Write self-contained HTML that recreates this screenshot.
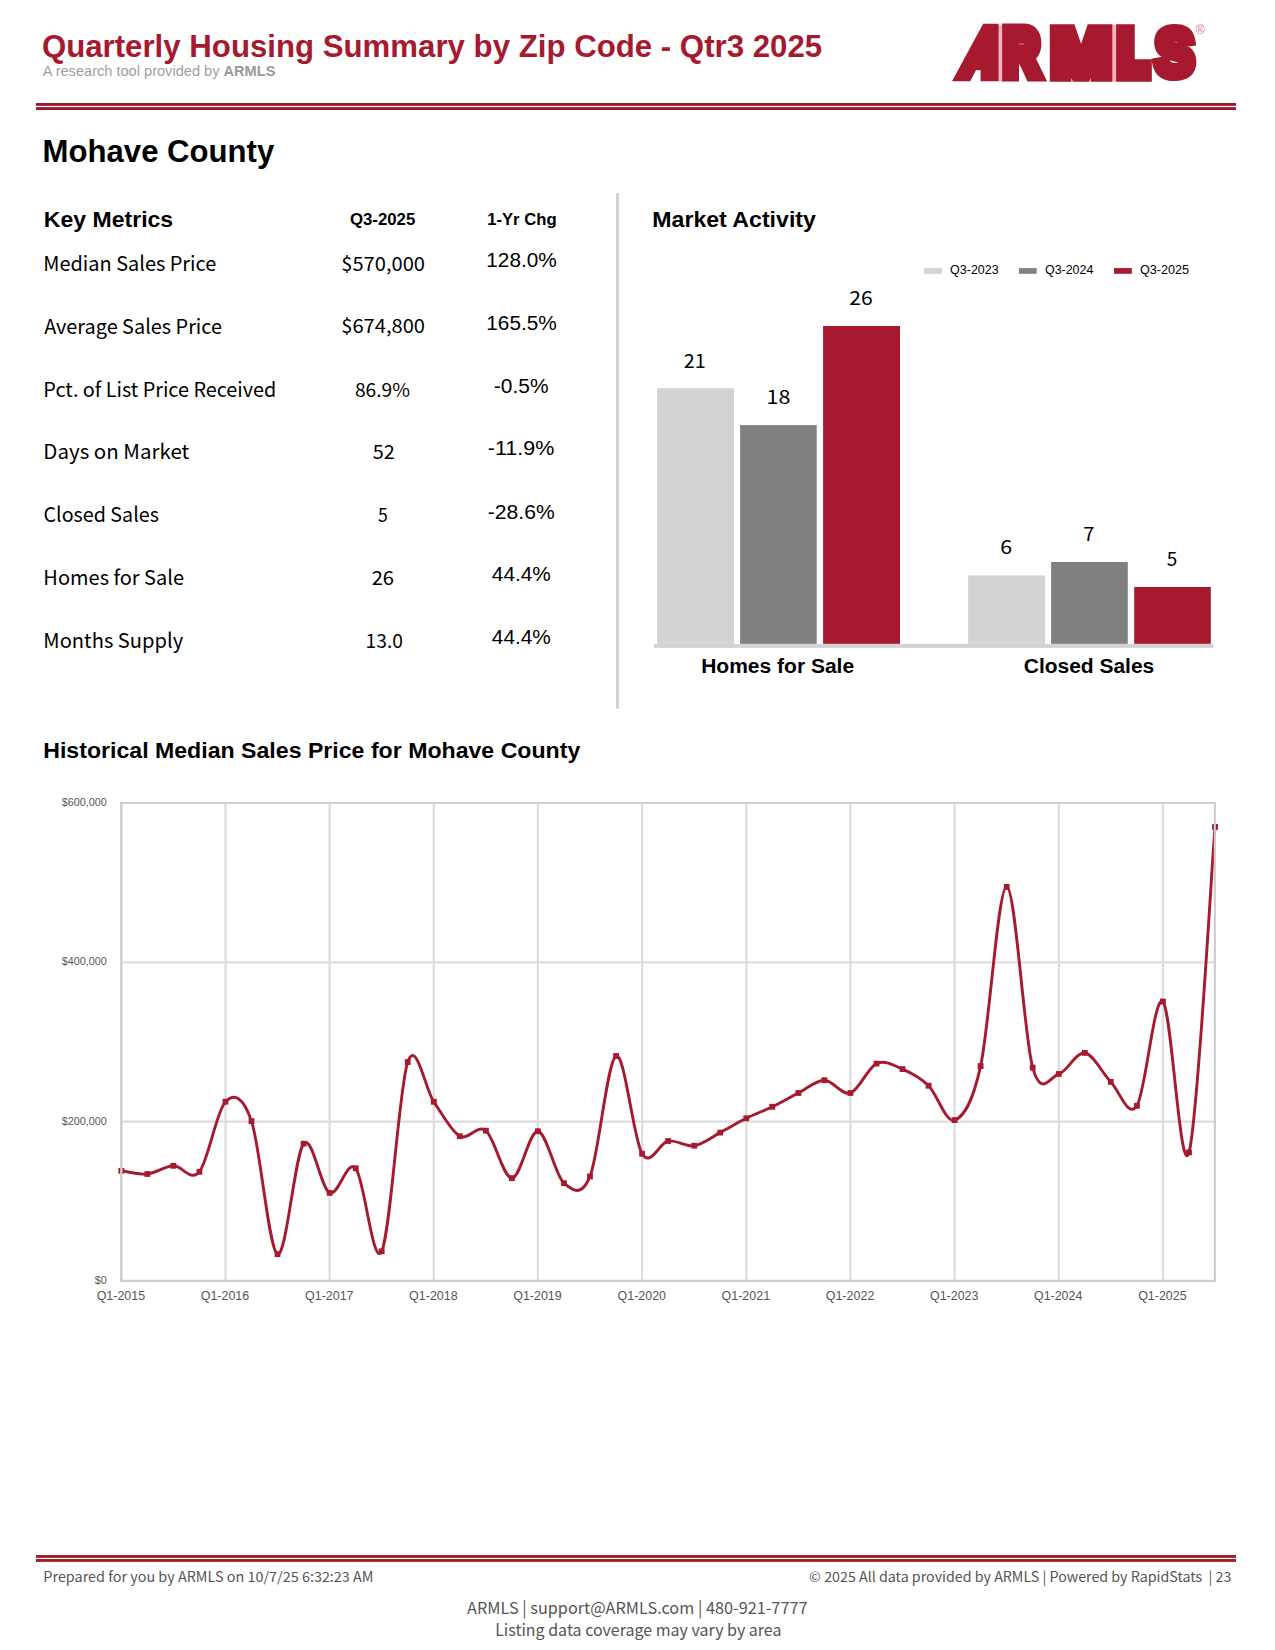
<!DOCTYPE html>
<html lang="en"><head><meta charset="utf-8"><title>Quarterly Housing Summary by Zip Code - Qtr3 2025</title>
<style>
html,body{margin:0;padding:0;background:#fff}
svg{display:block}
text{font-family:"Liberation Sans",sans-serif;fill:#000;white-space:pre}
.s{font-family:"Noto Sans CJK SC","DejaVu Sans Condensed","Liberation Sans",sans-serif}
.b{font-weight:bold}
</style></head><body>
<svg width="1275" height="1650" viewBox="0 0 1275 1650">
<rect width="1275" height="1650" fill="#fff"/>

<rect x="36" y="103" width="1200" height="2.9" fill="#9B1830"/><rect x="36" y="107.1" width="1200" height="2.9" fill="#9B1830"/>
<rect x="36" y="1555" width="1200" height="2.9" fill="#A11F26"/><rect x="36" y="1559" width="1200" height="2.9" fill="#A11F26"/>
<rect x="616" y="192.9" width="3" height="515.8" fill="#d2d2d2"/>
<g id="logo"><rect x="998" y="24.6" width="4.6" height="56.8" fill="#f3b4bb"/><rect x="1111.8" y="24.6" width="4.8" height="56.8" fill="#f3b4bb"/><text  font-size="100" style="font-family:'Liberation Sans',sans-serif;font-weight:bold;fill:#A6192E;stroke:#A6192E;stroke-width:23;stroke-linejoin:miter;stroke-miterlimit:2.5" transform="translate(960.47 74.46) scale(0.4652 0.6251) skewX(-19.951)">A</text><text  font-size="100" style="font-family:'Liberation Sans',sans-serif;font-weight:bold;fill:#A6192E;stroke:#A6192E;stroke-width:20;stroke-linejoin:miter;stroke-miterlimit:2.5" transform="translate(1003.69 75.19) scale(0.4905 0.6462)">R</text><text  font-size="100" style="font-family:'Liberation Sans',sans-serif;font-weight:bold;fill:#A6192E;stroke:#A6192E;stroke-width:17.5;stroke-linejoin:miter;stroke-miterlimit:2.5" transform="translate(1051.33 75.83) scale(0.7152 0.6649)">M</text><text  font-size="100" style="font-family:'Liberation Sans',sans-serif;font-weight:bold;fill:#A6192E;stroke:#A6192E;stroke-width:26;stroke-linejoin:miter;stroke-miterlimit:2.5" transform="translate(1118.99 73.78) scale(0.4621 0.6053)">L</text><text  font-size="100" style="font-family:'Liberation Sans',sans-serif;font-weight:bold;fill:#A6192E;stroke:#A6192E;stroke-width:17;stroke-linejoin:miter;stroke-miterlimit:2.5" transform="translate(1155.46 75.44) scale(0.5732 0.6536)">S</text><text x="1200.1" y="34.2" font-size="12.5" text-anchor="middle" style="fill:#cf7482">®</text></g>
<rect x="924.1" y="268.1" width="17.8" height="5.7" fill="#d3d3d3"/>
<rect x="1018.9" y="268.1" width="17.8" height="5.7" fill="#808080"/>
<rect x="1114.0" y="268.1" width="17.8" height="5.7" fill="#A6192E"/>
<rect x="657.1" y="388.2" width="76.8" height="255.7" fill="#d3d3d3"/>
<rect x="740.1" y="425.1" width="76.6" height="218.8" fill="#808080"/>
<rect x="823.1" y="326.0" width="76.9" height="317.9" fill="#A6192E"/>
<rect x="968.1" y="575.4" width="76.9" height="68.5" fill="#d3d3d3"/>
<rect x="1051.1" y="562.0" width="76.7" height="81.9" fill="#808080"/>
<rect x="1134.2" y="587.0" width="76.6" height="56.9" fill="#A6192E"/>
<rect x="654" y="643.9" width="559.4" height="4.0" fill="#d2d3d2"/>
<line x1="121.3" x2="1215.0" y1="1121.6" y2="1121.6" stroke="#dedede" stroke-width="2.3"/>
<line x1="121.3" x2="1215.0" y1="962.4" y2="962.4" stroke="#dedede" stroke-width="2.3"/>
<line x1="225.5" x2="225.5" y1="803.1" y2="1280.9" stroke="#dedede" stroke-width="2.3"/>
<line x1="329.6" x2="329.6" y1="803.1" y2="1280.9" stroke="#dedede" stroke-width="2.3"/>
<line x1="433.8" x2="433.8" y1="803.1" y2="1280.9" stroke="#dedede" stroke-width="2.3"/>
<line x1="537.9" x2="537.9" y1="803.1" y2="1280.9" stroke="#dedede" stroke-width="2.3"/>
<line x1="642.1" x2="642.1" y1="803.1" y2="1280.9" stroke="#dedede" stroke-width="2.3"/>
<line x1="746.3" x2="746.3" y1="803.1" y2="1280.9" stroke="#dedede" stroke-width="2.3"/>
<line x1="850.4" x2="850.4" y1="803.1" y2="1280.9" stroke="#dedede" stroke-width="2.3"/>
<line x1="954.6" x2="954.6" y1="803.1" y2="1280.9" stroke="#dedede" stroke-width="2.3"/>
<line x1="1058.8" x2="1058.8" y1="803.1" y2="1280.9" stroke="#dedede" stroke-width="2.3"/>
<line x1="1162.9" x2="1162.9" y1="803.1" y2="1280.9" stroke="#dedede" stroke-width="2.3"/>
<path d="M121.3 1170.8C125.6 1171.3 138.7 1174.8 147.3 1174.0C156.0 1173.2 164.7 1166.2 173.4 1165.8C182.1 1165.4 190.7 1182.5 199.4 1171.8C208.1 1161.1 216.8 1110.2 225.5 1101.7C234.1 1093.2 242.8 1095.7 251.5 1121.1C260.2 1146.5 268.9 1250.3 277.5 1254.1C286.2 1257.9 294.9 1153.9 303.6 1143.7C312.3 1133.5 320.9 1188.8 329.6 1192.9C338.3 1197.0 347.0 1158.6 355.7 1168.3C364.3 1178.0 373.0 1269.0 381.7 1251.3C390.4 1233.6 399.1 1087.0 407.7 1062.1C416.4 1037.2 425.1 1089.4 433.8 1101.8C442.5 1114.2 451.1 1131.4 459.8 1136.2C468.5 1141.0 477.2 1123.7 485.9 1130.7C494.5 1137.7 503.2 1178.0 511.9 1178.1C520.6 1178.2 529.3 1130.3 537.9 1131.2C546.6 1132.1 555.3 1175.7 564.0 1183.2C572.7 1190.7 581.3 1197.6 590.0 1176.4C598.7 1155.2 607.4 1059.8 616.1 1056.0C624.7 1052.2 633.4 1139.6 642.1 1153.8C650.8 1168.0 659.5 1142.3 668.1 1141.0C676.8 1139.7 685.5 1147.1 694.2 1145.7C702.9 1144.3 711.6 1137.2 720.2 1132.6C728.9 1128.0 737.6 1122.6 746.3 1118.3C755.0 1114.0 763.6 1111.0 772.3 1106.8C781.0 1102.6 789.7 1097.4 798.4 1093.0C807.0 1088.6 815.7 1080.2 824.4 1080.2C833.1 1080.2 841.8 1095.8 850.4 1093.0C859.1 1090.2 867.8 1067.6 876.5 1063.6C885.2 1059.6 893.8 1065.4 902.5 1069.1C911.2 1072.8 919.9 1077.2 928.6 1085.7C937.2 1094.2 945.9 1123.4 954.6 1120.1C963.3 1116.8 972.0 1105.0 980.6 1066.1C989.3 1027.2 998.0 886.6 1006.7 886.9C1015.4 887.1 1024.0 1036.4 1032.7 1067.6C1041.4 1098.8 1050.1 1076.5 1058.8 1074.0C1067.4 1071.5 1076.1 1051.6 1084.8 1052.9C1093.5 1054.2 1102.2 1073.1 1110.8 1081.9C1119.5 1090.7 1128.2 1119.2 1136.9 1105.8C1145.6 1092.4 1154.2 993.7 1162.9 1001.5C1171.6 1009.3 1180.3 1181.5 1189.0 1152.4C1197.6 1123.3 1210.7 881.1 1215.0 826.9" fill="none" stroke="#A6192E" stroke-width="2.9" stroke-linejoin="round"/>
<rect x="118.4" y="1167.9" width="5.8" height="5.8" fill="#A6192E"/>
<rect x="144.4" y="1171.1" width="5.8" height="5.8" fill="#A6192E"/>
<rect x="170.5" y="1162.9" width="5.8" height="5.8" fill="#A6192E"/>
<rect x="196.5" y="1168.9" width="5.8" height="5.8" fill="#A6192E"/>
<rect x="222.6" y="1098.8" width="5.8" height="5.8" fill="#A6192E"/>
<rect x="248.6" y="1118.2" width="5.8" height="5.8" fill="#A6192E"/>
<rect x="274.6" y="1251.2" width="5.8" height="5.8" fill="#A6192E"/>
<rect x="300.7" y="1140.8" width="5.8" height="5.8" fill="#A6192E"/>
<rect x="326.7" y="1190.0" width="5.8" height="5.8" fill="#A6192E"/>
<rect x="352.8" y="1165.4" width="5.8" height="5.8" fill="#A6192E"/>
<rect x="378.8" y="1248.4" width="5.8" height="5.8" fill="#A6192E"/>
<rect x="404.8" y="1059.2" width="5.8" height="5.8" fill="#A6192E"/>
<rect x="430.9" y="1098.9" width="5.8" height="5.8" fill="#A6192E"/>
<rect x="456.9" y="1133.3" width="5.8" height="5.8" fill="#A6192E"/>
<rect x="483.0" y="1127.8" width="5.8" height="5.8" fill="#A6192E"/>
<rect x="509.0" y="1175.2" width="5.8" height="5.8" fill="#A6192E"/>
<rect x="535.0" y="1128.3" width="5.8" height="5.8" fill="#A6192E"/>
<rect x="561.1" y="1180.3" width="5.8" height="5.8" fill="#A6192E"/>
<rect x="587.1" y="1173.5" width="5.8" height="5.8" fill="#A6192E"/>
<rect x="613.2" y="1053.1" width="5.8" height="5.8" fill="#A6192E"/>
<rect x="639.2" y="1150.9" width="5.8" height="5.8" fill="#A6192E"/>
<rect x="665.2" y="1138.1" width="5.8" height="5.8" fill="#A6192E"/>
<rect x="691.3" y="1142.8" width="5.8" height="5.8" fill="#A6192E"/>
<rect x="717.3" y="1129.7" width="5.8" height="5.8" fill="#A6192E"/>
<rect x="743.4" y="1115.4" width="5.8" height="5.8" fill="#A6192E"/>
<rect x="769.4" y="1103.9" width="5.8" height="5.8" fill="#A6192E"/>
<rect x="795.5" y="1090.1" width="5.8" height="5.8" fill="#A6192E"/>
<rect x="821.5" y="1077.3" width="5.8" height="5.8" fill="#A6192E"/>
<rect x="847.5" y="1090.1" width="5.8" height="5.8" fill="#A6192E"/>
<rect x="873.6" y="1060.7" width="5.8" height="5.8" fill="#A6192E"/>
<rect x="899.6" y="1066.2" width="5.8" height="5.8" fill="#A6192E"/>
<rect x="925.7" y="1082.8" width="5.8" height="5.8" fill="#A6192E"/>
<rect x="951.7" y="1117.2" width="5.8" height="5.8" fill="#A6192E"/>
<rect x="977.7" y="1063.2" width="5.8" height="5.8" fill="#A6192E"/>
<rect x="1003.8" y="884.0" width="5.8" height="5.8" fill="#A6192E"/>
<rect x="1029.8" y="1064.7" width="5.8" height="5.8" fill="#A6192E"/>
<rect x="1055.9" y="1071.1" width="5.8" height="5.8" fill="#A6192E"/>
<rect x="1081.9" y="1050.0" width="5.8" height="5.8" fill="#A6192E"/>
<rect x="1107.9" y="1079.0" width="5.8" height="5.8" fill="#A6192E"/>
<rect x="1134.0" y="1102.9" width="5.8" height="5.8" fill="#A6192E"/>
<rect x="1160.0" y="998.6" width="5.8" height="5.8" fill="#A6192E"/>
<rect x="1186.1" y="1149.5" width="5.8" height="5.8" fill="#A6192E"/>
<rect x="1212.1" y="824.0" width="5.8" height="5.8" fill="#A6192E"/>
<rect x="120.1" y="802.1" width="2.4" height="480" fill="#cdcdcd"/><rect x="1213.8" y="802.1" width="2.1" height="480" fill="#cdcdcd"/><rect x="120.1" y="802.1" width="1095.8" height="1.95" fill="#cdcdcd"/><rect x="120.1" y="1279.8" width="1095.8" height="2.3" fill="#cdcdcd"/>
<text id="title" class="b" font-size="31.25" style="fill:#A6192E" transform="translate(41.90 56.90) scale(0.9988 1.000)">Quarterly Housing Summary by Zip Code - Qtr3 2025</text>
<text id="sub" class="" font-size="14.58" style="fill:#a0a0a0" transform="translate(42.65 75.60) scale(1.0017 1.000)">A research tool provided by <tspan class="b" style="fill:#999">ARMLS</tspan></text>
<text id="county" class="b" font-size="31.25" style="fill:#000" transform="translate(42.61 161.90) scale(0.9959 1.000)">Mohave County</text>
<text id="km" class="b" font-size="22.9" style="fill:#000" transform="translate(43.84 226.70) scale(1.0063 1.000)">Key Metrics</text>
<text id="h1" class="b" font-size="16.67" style="fill:#000" transform="translate(349.95 225.00) scale(1.0071 1.000)">Q3-2025</text>
<text id="h2" class="b" font-size="16.67" style="fill:#000" transform="translate(487.15 225.00) scale(1.0007 1.000)">1-Yr Chg</text>
<text id="l0" class="s" font-size="20.5" style="fill:#000" transform="translate(43.21 271.40) scale(0.9726 1.000)">Median Sales Price</text>
<text id="v0" class="s" font-size="19.0" style="fill:#000" transform="translate(341.23 271.00) scale(1.0597 1.000)">$570,000</text>
<text id="c0" class="" font-size="20.83" style="fill:#000" transform="translate(486.30 267.10) scale(0.9978 1.000)">128.0%</text>
<text id="l1" class="s" font-size="20.5" style="fill:#000" transform="translate(44.15 333.60) scale(0.9699 1.000)">Average Sales Price</text>
<text id="v1" class="s" font-size="19.0" style="fill:#000" transform="translate(341.23 333.20) scale(1.0597 1.000)">$674,800</text>
<text id="c1" class="" font-size="20.83" style="fill:#000" transform="translate(486.30 330.00) scale(0.9978 1.000)">165.5%</text>
<text id="l2" class="s" font-size="20.5" style="fill:#000" transform="translate(43.37 397.00) scale(0.9671 1.000)">Pct. of List Price Received</text>
<text id="v2" class="s" font-size="19.0" style="fill:#000" transform="translate(354.89 396.60) scale(1.0123 1.000)">86.9%</text>
<text id="c2" class="" font-size="20.83" style="fill:#000" transform="translate(493.85 393.00) scale(1.0047 1.000)">-0.5%</text>
<text id="l3" class="s" font-size="20.5" style="fill:#000" transform="translate(43.30 459.10) scale(1.0000 1.000)">Days on Market</text>
<text id="v3" class="s" font-size="19.0" style="fill:#000" transform="translate(372.77 458.70) scale(1.0462 1.000)">52</text>
<text id="c3" class="" font-size="20.83" style="fill:#000" transform="translate(487.82 455.40) scale(1.0311 1.000)">-11.9%</text>
<text id="l4" class="s" font-size="20.5" style="fill:#000" transform="translate(43.49 522.00) scale(0.9615 1.000)">Closed Sales</text>
<text id="v4" class="s" font-size="19.0" style="fill:#000" transform="translate(378.03 521.60) scale(0.9333 1.000)">5</text>
<text id="c4" class="" font-size="20.83" style="fill:#000" transform="translate(487.84 519.10) scale(1.0132 1.000)">-28.6%</text>
<text id="l5" class="s" font-size="20.5" style="fill:#000" transform="translate(43.35 585.00) scale(0.9756 1.000)">Homes for Sale</text>
<text id="v5" class="s" font-size="19.0" style="fill:#000" transform="translate(371.65 584.60) scale(1.0597 1.000)">26</text>
<text id="c5" class="" font-size="20.83" style="fill:#000" transform="translate(491.85 580.60) scale(0.9991 1.000)">44.4%</text>
<text id="l6" class="s" font-size="20.5" style="fill:#000" transform="translate(43.34 648.00) scale(0.9814 1.000)">Months Supply</text>
<text id="v6" class="s" font-size="19.0" style="fill:#000" transform="translate(365.58 647.60) scale(1.0131 1.000)">13.0</text>
<text id="c6" class="" font-size="20.83" style="fill:#000" transform="translate(491.85 643.90) scale(0.9991 1.000)">44.4%</text>
<text id="ma" class="b" font-size="22.9" style="fill:#000" transform="translate(652.28 227.20) scale(1.0103 1.000)">Market Activity</text>
<text id="lg0" class="" font-size="11.9" style="fill:#000" transform="translate(950.12 274.00) scale(1.0497 1.000)">Q3-2023</text>
<text id="lg1" class="" font-size="11.9" style="fill:#000" transform="translate(1044.98 274.00) scale(1.0462 1.000)">Q3-2024</text>
<text id="lg2" class="" font-size="11.9" style="fill:#000" transform="translate(1139.91 274.00) scale(1.0622 1.000)">Q3-2025</text>
<text id="bl0" class="s" font-size="18.6" style="fill:#000" transform="translate(849.15 304.90) scale(1.1368 1.000)">26</text>
<text id="bl1" class="s" font-size="18.6" style="fill:#000" transform="translate(683.64 367.50) scale(1.0649 1.000)">21</text>
<text id="bl2" class="s" font-size="18.6" style="fill:#000" transform="translate(766.59 403.90) scale(1.1500 1.000)">18</text>
<text id="bl3" class="s" font-size="18.6" style="fill:#000" transform="translate(1000.28 553.50) scale(1.1500 1.000)">6</text>
<text id="bl4" class="s" font-size="18.6" style="fill:#000" transform="translate(1083.33 541.10) scale(1.0857 1.000)">7</text>
<text id="bl5" class="s" font-size="18.6" style="fill:#000" transform="translate(1166.79 566.20) scale(1.0171 1.000)">5</text>
<text id="hfs" class="b" font-size="20.83" style="fill:#000" transform="translate(701.19 672.70) scale(1.0094 1.000)">Homes for Sale</text>
<text id="cs" class="b" font-size="20.83" style="fill:#000" transform="translate(1023.74 672.60) scale(1.0070 1.000)">Closed Sales</text>
<text id="hist" class="b" font-size="22.6" style="fill:#000" transform="translate(43.22 757.50) scale(1.0232 1.000)">Historical Median Sales Price for Mohave County</text>
<text id="yl0" class="" font-size="10.8" style="fill:#555" transform="translate(94.80 1284.10) scale(1.0000 1.000)">$0</text>
<text id="yl1" class="" font-size="10.8" style="fill:#555" transform="translate(61.80 1125.00) scale(1.0000 1.000)">$200,000</text>
<text id="yl2" class="" font-size="10.8" style="fill:#555" transform="translate(61.80 965.20) scale(1.0000 1.000)">$400,000</text>
<text id="yl3" class="" font-size="10.8" style="fill:#555" transform="translate(61.80 805.90) scale(1.0000 1.000)">$600,000</text>
<text id="xl0" class="" font-size="12.3" style="fill:#555" transform="translate(96.64 1299.80) scale(1.0139 1.000)">Q1-2015</text>
<text id="xl1" class="" font-size="12.3" style="fill:#555" transform="translate(200.71 1299.80) scale(1.0139 1.000)">Q1-2016</text>
<text id="xl2" class="" font-size="12.3" style="fill:#555" transform="translate(305.04 1299.80) scale(1.0139 1.000)">Q1-2017</text>
<text id="xl3" class="" font-size="12.3" style="fill:#555" transform="translate(409.11 1299.80) scale(1.0139 1.000)">Q1-2018</text>
<text id="xl4" class="" font-size="12.3" style="fill:#555" transform="translate(513.19 1299.80) scale(1.0139 1.000)">Q1-2019</text>
<text id="xl5" class="" font-size="12.3" style="fill:#555" transform="translate(617.51 1299.80) scale(1.0139 1.000)">Q1-2020</text>
<text id="xl6" class="" font-size="12.3" style="fill:#555" transform="translate(721.58 1299.80) scale(1.0139 1.000)">Q1-2021</text>
<text id="xl7" class="" font-size="12.3" style="fill:#555" transform="translate(825.65 1299.80) scale(1.0194 1.000)">Q1-2022</text>
<text id="xl8" class="" font-size="12.3" style="fill:#555" transform="translate(929.98 1299.80) scale(1.0139 1.000)">Q1-2023</text>
<text id="xl9" class="" font-size="12.3" style="fill:#555" transform="translate(1034.06 1299.80) scale(1.0085 1.000)">Q1-2024</text>
<text id="xl10" class="" font-size="12.3" style="fill:#555" transform="translate(1138.13 1299.80) scale(1.0139 1.000)">Q1-2025</text>
<text id="f1" class="s" font-size="14.0" style="fill:#555" transform="translate(43.36 1582.30) scale(1.0292 1.000)">Prepared for you by ARMLS on 10/7/25 6:32:23 AM</text>
<text id="f2" class="s" font-size="14.0" style="fill:#555" transform="translate(809.09 1582.30) scale(1.0188 1.000)">© 2025 All data provided by ARMLS | Powered by RapidStats  | 23</text>
<text id="f3" class="s" font-size="16.6" style="fill:#555" transform="translate(467.10 1613.80) scale(0.9805 1.000)">ARMLS | support@ARMLS.com | 480-921-7777</text>
<text id="f4" class="s" font-size="16.6" style="fill:#555" transform="translate(495.16 1635.70) scale(0.9651 1.000)">Listing data coverage may vary by area</text>
</svg></body></html>
